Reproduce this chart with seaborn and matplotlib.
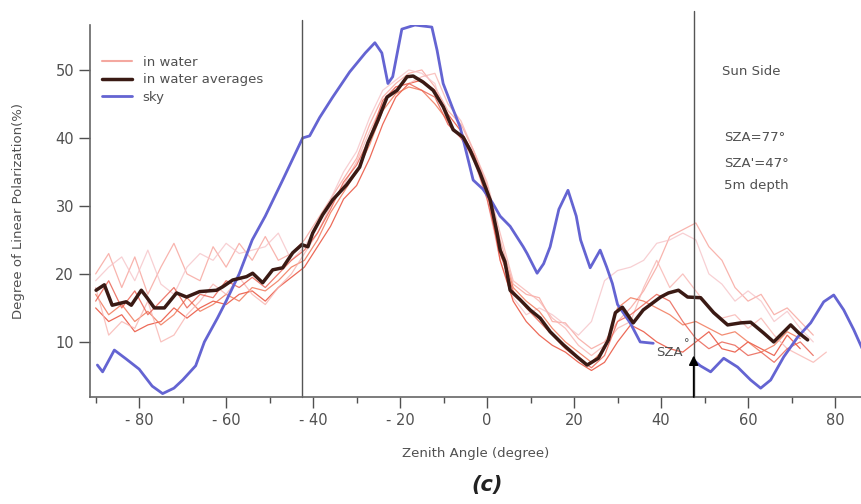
import numpy as np
import pandas as pd
import matplotlib
matplotlib.use("Agg")
import matplotlib.pyplot as plt
from matplotlib.lines import Line2D
import seaborn as sns

# zenith angle grid of the individual in-water profiles (degree)
angles = [-90, -87, -84, -81, -78, -75, -72, -69, -66, -63,
          -60, -57, -54, -51, -48, -45, -42, -39, -36, -33,
          -30, -27, -24, -21, -18, -15, -12, -9, -6, -3,
          0, 3, 6, 9, 12, 15, 18, 21, 24, 27,
          30, 33, 36, 39, 42, 45, 48, 51, 54, 57,
          60, 63, 66, 69, 72, 75, 78]

nan = np.nan
water1 = [20, 23, 18, 22.5, 17, 21, 24.5, 20, 19, 24,
          21, 24.5, 22, 25.5, 22, 23, 25, 28, 31, 34,
          37, 42, 46, 48, 49.5, 50, 47.5, 44, 42, 38,
          33, 25, 18.5, 17, 16.5, 13, 12.8, 10.5, 9, 10,
          13, 15, 17.5, 21, 25.5, 26.5, 27.5, 24, 22, 18,
          16, 17, 14, 15, 13, 11, nan]
water2 = [19, 21, 22.5, 19, 23.5, 18.5, 17, 21, 23, 22,
          24.5, 23, 23.5, 24, 26, 22, 24, 27, 31, 35,
          38, 43, 47, 48.5, 50, 49.5, 48, 42, 40, 36.5,
          31, 22, 16.5, 14, 15, 14, 12.5, 11, 13, 19,
          20.5, 21, 22, 24.5, 25, 26, 25, 20, 18.5, 16,
          17.5, 16, 13, 14.5, 12, 10, nan]
water3 = [15, 13, 14, 11.5, 12.5, 13, 15, 13.5, 15, 16,
          15.5, 17, 17.5, 16, 18, 19.5, 21, 24, 27, 31,
          33, 37, 42, 46, 48, 48.5, 47, 43.5, 41, 37.5,
          32.5, 22, 16, 13, 11, 9.5, 8.5, 7, 5.8, 7,
          10, 12.5, 11.5, 10, 9, 8.5, 10, 11.5, 9, 8.5,
          10, 9, 8, 11, 9, nan, nan]
water4 = [17, 14, 15.5, 13, 14.5, 12.5, 14, 16.5, 14.5, 15.5,
          17, 16, 18, 17.5, 19, 21, 22, 25, 29, 32,
          35, 39, 44, 46.5, 47.5, 47, 45, 42.5, 40, 37,
          32, 24, 18, 16, 14.5, 12, 10, 8.5, 7, 9,
          15, 16.5, 16, 15, 14, 12.5, 13, 12, 11, 11.5,
          10, 8.5, 9.5, 11.5, 10.5, nan, nan]
water5 = [18, 11, 13, 12, 16, 10, 11, 14, 16, 18.5,
          17, 19.5, 17, 15.5, 18, 20, 23, 26, 30, 33,
          36.5, 41, 45, 47.5, 48, 49, 49.5, 45, 42.5, 38,
          33.5, 26, 19, 17.5, 16, 13.5, 12, 9.5, 8, 9.5,
          12, 13, 18, 22, 18, 20, 17.5, 15, 13.5, 14,
          12, 13.5, 11, 9, 8, 7, 8.5]
water6 = [16, 19, 15, 17.5, 14, 16, 18, 15, 17, 16.5,
          19, 18, 19.5, 18, 20, 22, 23.5, 26, 29.5, 33.5,
          36, 40, 45.5, 47.5, 48, 47, 46, 42, 40, 37,
          31, 23, 17.5, 15, 13, 11, 9, 7.5, 6.2, 8,
          13, 14, 15.5, 17, 16, 13, 10.5, 9, 10, 9.5,
          8, 8.5, 7, 9, 10, 8, nan]

# in-water average
avg_x = [-89.9, -88, -86.2, -83, -81.8, -79.5, -78.3, -76.5, -74.2, -71.4,
         -69.1, -66.1, -62.2, -60.8, -58.5, -55.3, -53.9, -51.6, -49.3, -47,
         -44.7, -42.6, -41.2, -40.1, -37.8, -35.5, -32.3, -29.3, -27.4, -25.1,
         -23, -20.7, -18.4, -17, -14.7, -12.4, -10.1, -7.8, -5.5, -3.9,
         -1.6, 0.7, 2.3, 3, 4.1, 5.3, 7.6, 9.9, 12.2, 14.5,
         17.5, 20.7, 23, 25.6, 27.9, 29.5, 31.1, 33.6, 35.9, 39.9,
         41.7, 44, 46.1, 49.1, 52.1, 55.3, 58.3, 60.6, 63.6, 65.9,
         69.8, 71.7, 73.7]
avg_y = [17.6, 18.4, 15.4, 15.9, 15.4, 17.6, 16.6, 15, 15, 17.2,
         16.6, 17.4, 17.6, 18.1, 19.1, 19.6, 20.1, 18.7, 20.6, 20.9,
         23.1, 24.3, 24, 26, 28.7, 30.9, 33.1, 35.7, 39.3, 42.6,
         46, 47, 49, 49.1, 48.2, 47, 44.6, 41.2, 40.1, 38.2,
         34.8, 30.9, 26, 23.5, 21.8, 17.6, 16.2, 14.7, 13.5, 11.5,
         9.6, 7.8, 6.6, 7.6, 10.3, 14.3, 15.1, 12.8, 14.7, 16.6,
         17.2, 17.6, 16.6, 16.5, 14.3, 12.5, 12.8, 12.9, 11.3, 10,
         12.5, 11.3, 10.3]

# sky (two pieces, hidden behind the SZA label in between)
sky_x1 = [-89.6, -88.4, -85.7, -83, -80, -77, -74.6, -72, -70, -67,
          -65, -62, -60, -57, -54, -51, -47, -45, -42.4, -40.8,
          -38.5, -35.5, -31.6, -28, -25.8, -24.2, -22.8, -21.7, -19.6, -16.6,
          -12.7, -11.5, -10.1, -8, -6.2, -3.2, -1, 1.2, 3, 5.3,
          8.3, 9.2, 11.5, 13, 14.5, 16.5, 18.6, 20.5, 21.5, 23.7,
          26, 27.5, 28.8, 30, 32.9, 35.2, 38.2]
sky_y1 = [6.6, 5.6, 8.8, 7.5, 6, 3.5, 2.4, 3.2, 4.4, 6.5,
          10, 13.5, 16, 20, 25, 28.5, 33.8, 36.5, 40, 40.3,
          43, 46, 49.7, 52.5, 54, 52.5, 48, 49, 56, 56.6,
          56.3, 52.9, 48, 44.5, 41.6, 33.8, 32.5, 30.5, 28.5, 27,
          24, 23, 20.1, 21.5, 24, 29.5, 32.3, 28.5, 25, 20.9,
          23.5, 21, 18.6, 15.5, 12.8, 10, 9.8]
sky_x2 = [47.5, 49, 51.4, 54.4, 57.6, 60.6, 62.9, 65.2, 68.2, 71.4,
          74.4, 77.4, 79.7, 82, 84.3, 86.4]
sky_y2 = [7.3, 6.5, 5.6, 7.6, 6.3, 4.4, 3.2, 4.4, 7.8, 10.7,
          12.8, 15.9, 16.9, 14.7, 11.8, 8.8]

water_colors = ["#f7a29a", "#f6c4c8", "#e8452f", "#f07050", "#f8b4b0", "#e85a4a"]
gray = "#505050"

sns.set_style("ticks")
plt.rcParams["font.family"] = ["DejaVu Sans"]
plt.rcParams["axes.unicode_minus"] = False

fig = plt.figure(figsize=(8.62, 5.04), dpi=100)
ax = fig.add_axes([0.1044, 0.2123, 0.8956, 0.738])

water = pd.DataFrame({"angle": angles,
                      "w1": water1, "w2": water2, "w3": water3,
                      "w4": water4, "w5": water5, "w6": water6})
long = water.melt(id_vars="angle", var_name="run", value_name="dolp").dropna()
sns.lineplot(data=long, x="angle", y="dolp", hue="run", palette=water_colors,
             estimator=None, lw=0.9, alpha=0.8, legend=False, ax=ax)

sns.lineplot(x=sky_x1, y=sky_y1, color="#6464d2", lw=2, ax=ax, estimator=None)
sns.lineplot(x=sky_x2, y=sky_y2, color="#6464d2", lw=2, ax=ax, estimator=None)
sns.lineplot(x=avg_x, y=avg_y, color="#3a1a14", lw=2.5, ax=ax, estimator=None)

ax.set_xlim(-91.3, 86.2)
ax.set_ylim(1.9, 56.6)
ax.set_xticks([-80, -60, -40, -20, 0, 20, 40, 60, 80])
ax.set_xticklabels(["- 80", "- 60", "- 40", "- 20", "0", "20", "40", "60", "80"])
ax.set_xticks(range(-90, 90, 10), minor=True)
ax.set_yticks([10, 20, 30, 40, 50])
ax.tick_params(axis="both", which="major", length=8, width=1, color=gray,
               labelcolor=gray, labelsize=10.5)
ax.tick_params(axis="x", which="minor", length=4, width=1, color=gray)
sns.despine(ax=ax)
for s in ("left", "bottom"):
    ax.spines[s].set_color("#666666")
    ax.spines[s].set_linewidth(1.2)

ax.set_xlabel("Zenith Angle (degree)", fontsize=9.5, color=gray, labelpad=14)
ax.set_ylabel("Degree of Linear Polarization(%)", fontsize=9.5, color=gray, labelpad=22)

# vertical reference lines
ax.plot([-42.5, -42.5], [1.9, 57.4], color="#555555", lw=1, clip_on=False)
ax.plot([47.6, 47.6], [1.9, 58.6], color="#555555", lw=1, clip_on=False)

ax.annotate("", xy=(47.5, 8.0), xytext=(47.5, 1.9),
            arrowprops=dict(arrowstyle="-|>", color="black", lw=1.2,
                            mutation_scale=14, shrinkA=0, shrinkB=0))
ax.text(38.8, 8.4, "SZA", fontsize=9.5, color=gray, ha="left", va="center")
ax.text(45.2, 9.9, "°", fontsize=8, color=gray, ha="left", va="center")

ax.text(54, 49.7, "Sun Side", fontsize=9.5, color=gray, va="center")
ax.text(54.5, 40.1, "SZA=77°", fontsize=9.5, color=gray, va="center")
ax.text(54.5, 36.3, "SZA'=47°", fontsize=9.5, color=gray, va="center")
ax.text(54.5, 33.0, "5m depth", fontsize=9.5, color=gray, va="center")

handles = [Line2D([], [], color="#f4a8a0", lw=1.5),
           Line2D([], [], color="#3a1a14", lw=2.5),
           Line2D([], [], color="#6464d2", lw=2)]
leg = ax.legend(handles, ["in water", "in water averages", "sky"],
                loc="upper left", bbox_to_anchor=(0.0, 0.95), frameon=False,
                fontsize=9.5, handlelength=2.3, labelspacing=0.35,
                handletextpad=0.8)
for t in leg.get_texts():
    t.set_color(gray)

fig.text(0.565, 0.038, "(c)", fontsize=15, fontweight="bold", fontstyle="italic",
         ha="center", va="center", color="#222222")

fig.savefig("out.png", dpi=100)
